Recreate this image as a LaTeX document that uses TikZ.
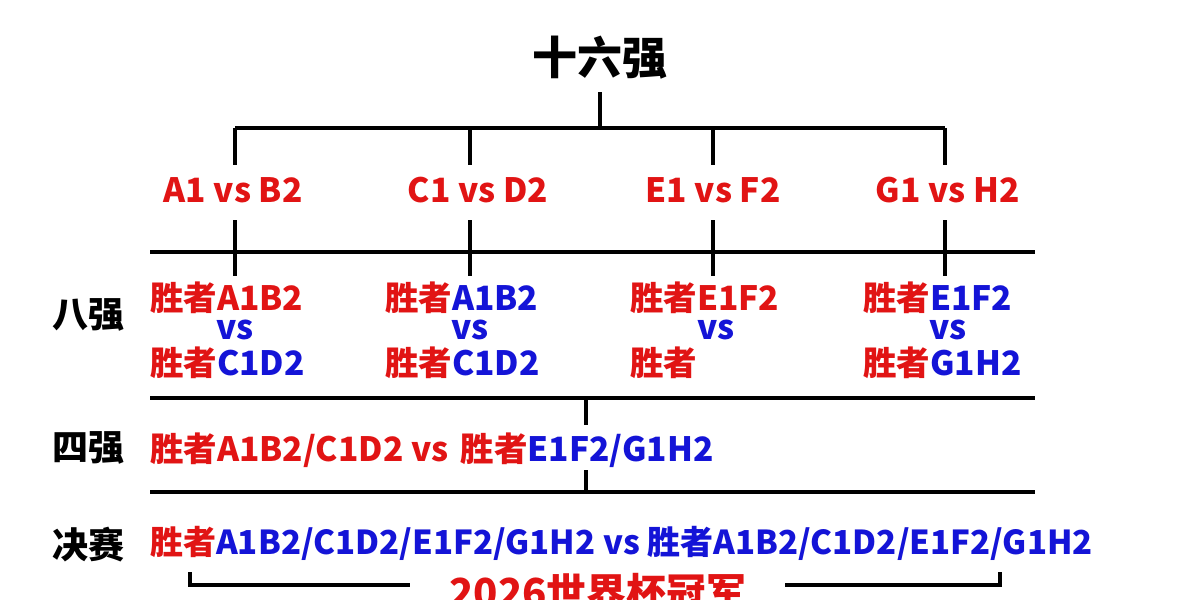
\documentclass[tikz,border=0pt]{standalone}
\usepackage{fontspec}
\setmainfont{Noto Sans CJK SC}
\definecolor{rd}{RGB}{225,20,20}
\definecolor{bl}{RGB}{20,20,215}
\begin{document}
\begin{tikzpicture}[x=1pt,y=-1pt,
  ln/.style={line width=4pt,black},
  t/.style={font=\fontsize{33.5}{35}\selectfont\bfseries,inner sep=0pt},
  hd/.style={font=\fontsize{36}{38}\selectfont\bfseries,inner sep=0pt},
  r/.style={text=rd},b/.style={text=bl}]
\useasboundingbox[fill=white] (0,0) rectangle (1200,600);
\node[font=\fontsize{45}{47}\selectfont\bfseries] (top) at (600,58) {十六强};
\coordinate (tb) at (600,128);
\draw[ln] (600,92) -- (tb);
\draw[ln] (235,128) -- (945,128);
\foreach \x in {235,470,713,945} \draw[ln] (\x,128) -- (\x,165);
\node[t,r] (m1) at (233,190) {A1 vs B2};
\node[t,r] (m2) at (478,190) {C1 vs D2};
\node[t,r] (m3) at (713,190) {E1 vs F2};
\node[t,r] (m4) at (948,190) {G1 vs H2};
\draw[ln] (150,252) -- (1035,252);
\foreach \x in {235,470,713,945} \draw[ln] (\x,220) -- (\x,276);
\node[hd] (l8) at (88,315) {八强};
% col 1
\node[t,anchor=west] (a1) at (150,298) {\color{rd}胜者A1B2};
\node[t,b] (v1) at (235,330) {vs};
\node[t,anchor=west] (a2) at (150,363) {\color{rd}胜者\color{bl}C1D2};
% col 2
\node[t,anchor=west] (b1) at (385,298) {\color{rd}胜者\color{bl}A1B2};
\node[t,b] (v2) at (470,330) {vs};
\node[t,anchor=west] (b2) at (385,363) {\color{rd}胜者\color{bl}C1D2};
% col 3
\node[t,anchor=west] (c1) at (630,298) {\color{rd}胜者E1F2};
\node[t,b] (v3) at (716,330) {vs};
\node[t,anchor=west] (c2) at (630,363) {\color{rd}胜者};
% col 4
\node[t,anchor=west] (d1) at (863,298) {\color{rd}胜者\color{bl}E1F2};
\node[t,b] (v4) at (948,330) {vs};
\node[t,anchor=west] (d2) at (863,363) {\color{rd}胜者\color{bl}G1H2};
\draw[ln] (150,398) -- (1035,398);
\draw[ln] (586,398) -- (586,425);
\node[hd] (l4) at (88,448) {四强};
\node[t,anchor=west] (sf) at (150,450) {\color{rd}胜者A1B2/C1D2 vs\hspace{12pt}胜者\color{bl}E1F2/G1H2};
\draw[ln] (586,470) -- (586,492);
\draw[ln] (150,492) -- (1035,492);
\node[hd] (lf) at (88,545) {决赛};
\node[font=\fontsize{33}{35}\selectfont\bfseries,inner sep=0pt,anchor=west] (fn) at (150,543) {\color{rd}胜者\color{bl}A1B2/C1D2/E1F2/G1H2 vs 胜者A1B2/C1D2/E1F2/G1H2};
\node[font=\fontsize{40}{42}\selectfont\bfseries,text=rd,inner sep=0pt] (ch) at (598,592) {2026世界杯冠军};
\draw[ln] (190,572) -- (190,585) -- (410,585);
\draw[ln] (785,585) -- (1000,585) -- (1000,572);
\end{tikzpicture}
\end{document}
